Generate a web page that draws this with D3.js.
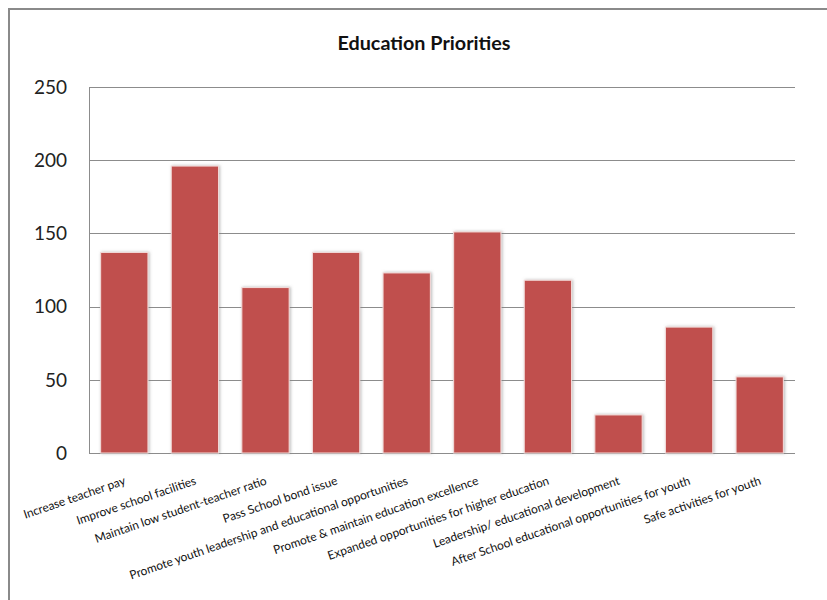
<!DOCTYPE html>
<html>
<head>
<meta charset="utf-8">
<script src="https://cdn.jsdelivr.net/npm/d3@7"></script>
<style>
  html, body { margin: 0; padding: 0; background: #fff; overflow: hidden; }
  .tick-label { font-family: Lato, "Liberation Sans", sans-serif; font-size: 19px; fill: #222; }
  .x-label { font-family: Lato, "Liberation Sans", sans-serif; font-size: 11.9px; fill: #111; }
  .chart-title { font-family: Lato, "Liberation Sans", sans-serif; font-size: 19px; font-weight: bold; fill: #111; }
</style>
</head>
<body>
<svg id="chart"></svg>
<script>
const categories = [
  "Increase teacher pay",
  "Improve school facilities",
  "Maintain low student-teacher ratio",
  "Pass School bond issue",
  "Promote youth leadership and educational opportunities",
  "Promote & maintain education excellence",
  "Expanded opportunities for higher education",
  "Leadership/ educational development",
  "After School educational opportunities for youth",
  "Safe activities for youth"
];
const values = [137, 196, 113, 137, 123, 151, 118, 26, 86, 52];
const yTicks = [0, 50, 100, 150, 200, 250];
const title = "Education Priorities";

const W = 827, H = 600;
const margin = { top: 87, right: 32, bottom: 147, left: 89 };
const width = W - margin.left - margin.right;
const height = H - margin.top - margin.bottom;

const svg = d3.select("#chart").attr("width", W).attr("height", H);

// outer chart frame
svg.append("rect")
  .attr("x", 9).attr("y", 9)
  .attr("width", 840).attr("height", 640)
  .attr("fill", "none")
  .attr("stroke", "#8a8a8a")
  .attr("stroke-width", 2);

const defs = svg.append("defs");
const f = defs.append("filter").attr("id", "shadow")
  .attr("x", "-30%").attr("y", "-10%").attr("width", "160%").attr("height", "120%");
f.append("feDropShadow")
  .attr("dx", 1).attr("dy", 0).attr("stdDeviation", 1.6)
  .attr("flood-color", "#808080").attr("flood-opacity", 0.55);

const x = d3.scaleBand().domain(categories).range([0, width])
  .paddingInner(0.33).paddingOuter(0.165);
const y = d3.scaleLinear().domain([0, 250]).range([height, 0]);

const chart = svg.append("g").attr("transform", `translate(${margin.left}, ${margin.top})`);

// gridlines
chart.append("g")
  .selectAll("line")
  .data(yTicks)
  .enter()
  .append("line")
  .attr("x1", 0).attr("x2", width)
  .attr("y1", d => Math.round(y(d)) + 0.5)
  .attr("y2", d => Math.round(y(d)) + 0.5)
  .attr("stroke", "#8c8c8c")
  .attr("stroke-width", 1);

// left axis line
chart.append("line")
  .attr("x1", 0.5).attr("x2", 0.5)
  .attr("y1", y(250)).attr("y2", y(0) + 0.5)
  .attr("stroke", "#8c8c8c");

chart.selectAll(".bar")
  .data(values)
  .enter()
  .append("rect")
  .attr("class", "bar")
  .attr("x", (d, i) => x(categories[i]))
  .attr("width", x.bandwidth())
  .attr("y", d => y(d))
  .attr("height", d => height - y(d))
  .attr("fill", "#c0504d")
  .attr("stroke", "#f4dcdb")
  .attr("stroke-width", 1)
  .attr("filter", "url(#shadow)");

// y tick labels
chart.append("g")
  .selectAll("text")
  .data(yTicks)
  .enter()
  .append("text")
  .attr("class", "tick-label")
  .attr("x", -22)
  .attr("y", d => y(d))
  .attr("dy", "0.36em")
  .attr("text-anchor", "end")
  .text(d => d);

// x labels, rotated
chart.append("g")
  .selectAll("text")
  .data(categories)
  .enter()
  .append("text")
  .attr("class", "x-label")
  .attr("text-anchor", "end")
  .attr("transform", d => `translate(${x(d) + x.bandwidth() / 2 + 2}, ${height + 31}) rotate(-19)`)
  .text(d => d);

svg.append("text")
  .attr("class", "chart-title")
  .attr("x", 424)
  .attr("y", 50)
  .attr("text-anchor", "middle")
  .attr("textLength", 173)
  .attr("lengthAdjust", "spacingAndGlyphs")
  .text(title);
</script>
</body>
</html>
